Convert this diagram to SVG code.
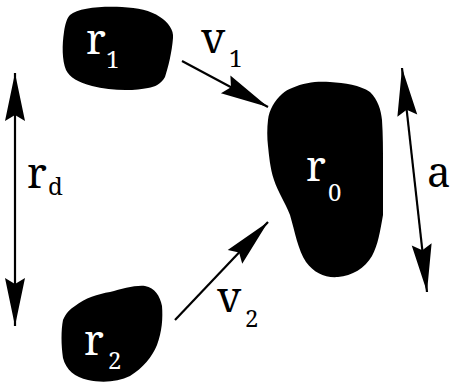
<svg xmlns="http://www.w3.org/2000/svg" width="452" height="383" viewBox="0 0 452 383">
<style>
.blob{fill:#000;stroke:none}
text{font-family:'Noto Serif','DejaVu Serif',serif}
.lbl{font-size:42px}
.sub{font-size:24px}
.w{fill:#fff}
.k{fill:#000}
.conn line{stroke:#000;stroke-width:2.2;fill:none}
</style>
<defs>
<marker id="ah" markerUnits="userSpaceOnUse" viewBox="-50 -12 52 24" refX="0" refY="0" markerWidth="52" markerHeight="24" orient="auto-start-reverse">
<path d="M0,0 L-48,-10 L-42,0 L-48,10 Z" fill="#000"/>
</marker>
</defs>
<rect width="452" height="383" fill="#fff"/>
<g id="r1">
<path class="blob" d="M70,15 C78,8 100,6 122,7 C138,8 150,10 160,17 C168,22 174,30 173,38 C172,52 168,68 165,77 C161,84 155,87 148,88 C135,91 110,91 92,86 C78,82 70,78 66,70 C62,60 62,45 64,32 C65,24 67,18 70,15 Z"/>
<text class="lbl w" x="86" y="54">r</text>
<text class="sub w" x="106" y="68">1</text>
</g>
<g id="r0">
<path class="blob" d="M292,88 C305,82 318,81 330,82 C345,83 360,85 370,92 C378,100 381,110 382,120 C383,135 383,150 383,165 C383,185 383,200 383,215 C380,232 378,245 372,256 C365,268 352,276 338,277 C325,278 314,273 306,262 C298,250 295,232 290,215 C285,202 278,192 274,180 C270,168 269,155 268,146 C267,138 267,128 268,120 C269,110 275,100 282,94 C285,91 289,89 292,88 Z"/>
<text class="lbl w" x="306" y="181">r</text>
<text class="sub w" x="328" y="201">0</text>
</g>
<g id="r2">
<path class="blob" d="M75,306 C85,298 98,294 110,292 C122,289 135,285 145,286 C155,288 160,296 162,306 C163,318 162,332 157,345 C152,357 143,368 130,376 C118,382 102,383 88,380 C75,377 66,370 63,358 C61,345 61,330 63,320 C66,313 70,309 75,306 Z"/>
<text class="lbl w" x="84" y="355">r</text>
<text class="sub w" x="108" y="369">2</text>
</g>
<g id="conn" class="conn">
<line x1="182" y1="61" x2="268" y2="107" marker-end="url(#ah)"/>
<line x1="175" y1="320" x2="268" y2="222" marker-end="url(#ah)"/>
<line x1="15" y1="73" x2="15" y2="326" marker-start="url(#ah)" marker-end="url(#ah)"/>
<line x1="402" y1="68" x2="427" y2="292" marker-start="url(#ah)" marker-end="url(#ah)"/>
</g>
<g id="labels">
<text class="lbl k" x="201" y="53">v</text>
<text class="sub k" x="229" y="67">1</text>
<text class="lbl k" x="217" y="312">v</text>
<text class="sub k" x="245" y="327">2</text>
<text class="lbl k" x="27" y="188">r</text>
<text class="sub k" x="48" y="195">d</text>
<text class="lbl k" x="427" y="187">a</text>
</g>
</svg>
